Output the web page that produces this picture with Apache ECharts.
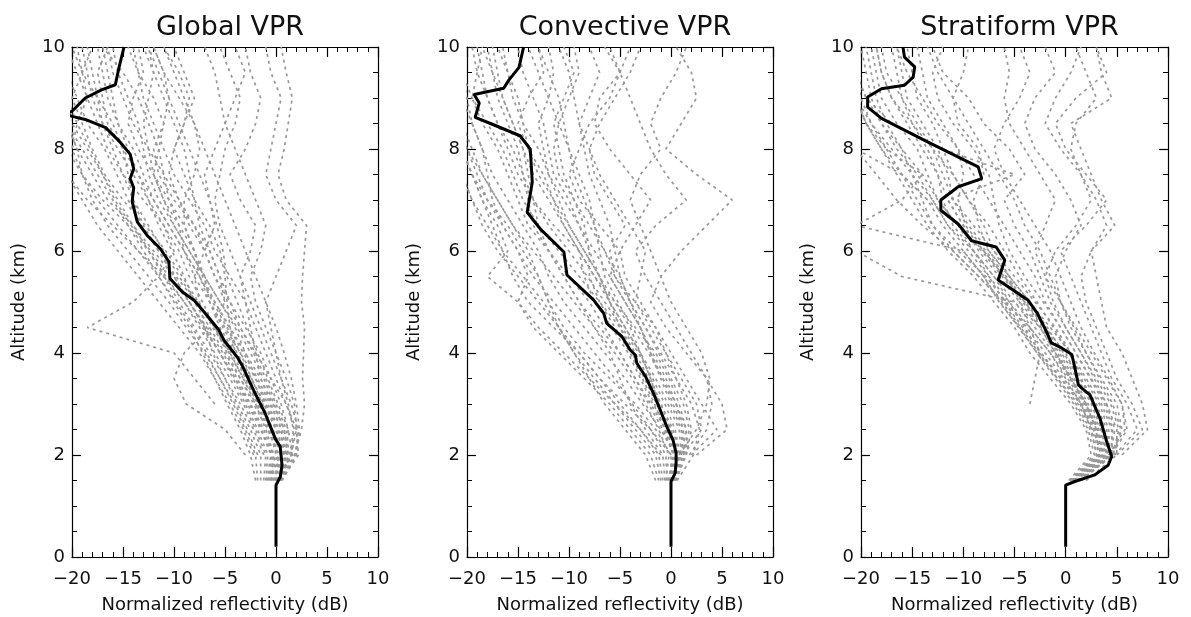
<!DOCTYPE html>
<html>
<head>
<meta charset="utf-8">
<script src="https://cdn.jsdelivr.net/npm/echarts@6/dist/echarts.min.js"></script>
<style>html,body{margin:0;padding:0;background:#fff}#c{width:1191px;height:617px}</style>
</head>
<body>
<div id="c"></div>
<script>
// ---------------- DATA ----------------
const PANEL_TITLES = ['Global VPR', 'Convective VPR', 'Stratiform VPR'];
const X_NAME = 'Normalized reflectivity (dB)';
const Y_NAME = 'Altitude (km)';
const X_TICKS = [-20, -15, -10, -5, 0, 5, 10];
const Y_TICKS = [0, 2, 4, 6, 8, 10];

// altitude levels (km) shared by the gray individual profiles
const PROFILE_ALT = [1.5, 2, 2.5, 3, 3.5, 4, 4.5, 5, 5.5, 6, 6.5, 7, 7.5, 8, 8.5, 9, 9.5, 10];

// Global VPR: individual profiles (dB at PROFILE_ALT)
const globalProfiles = [
  [0.2, 0.6, -0.3, -1.5, -2.9, -4.4, -6.0, -7.8, -9.8, -11.5, -13.2, -14.5, -15.6, -16.8, -18.5, -19.5, -20.5, null],
  [-0.5, -0.3, -1.2, -2.5, -3.8, -5.2, -6.8, -8.5, -10.5, -12.3, -14.2, -15.8, -17.0, -18.2, -19.5, -20.5, null, null],
  [0.5, 1.2, 0.8, -0.3, -1.5, -3.0, -4.5, -6.0, -7.5, -9.0, -10.5, -12.0, -13.0, -14.0, -15.5, -16.5, -17.0, -17.5],
  [-1.2, -1.0, -2.0, -3.2, -4.5, -6.0, -7.5, -9.0, -10.8, -12.5, -14.0, -15.5, -17.0, -18.5, -20.0, -21.0, null, null],
  [0.0, 1.5, 1.8, 1.0, 0.0, -1.0, -2.0, -3.0, -4.5, -6.0, -7.0, -8.5, -10.0, -11.0, -12.0, -13.0, -13.5, -14.0],
  [-2.0, -2.5, -3.5, -4.8, -6.0, -7.2, -8.5, -10.0, -11.5, -13.0, -14.5, -16.0, -17.5, -19.0, -20.5, null, null, null],
  [0.6, 2.0, 2.3, 2.0, 1.5, 0.8, 0.0, -1.0, -2.0, -3.0, -4.0, -5.0, -6.0, -7.0, -8.0, -9.0, -10.0, -11.0],
  [-0.8, 0.0, -0.6, -2.0, -3.5, -5.0, -6.5, -8.0, -9.0, -10.2, -11.5, -12.5, -13.5, -14.5, -15.5, -16.0, -16.5, -17.0],
  [null, -3.0, -5.0, -8.8, -10.0, -9.0, -6.5, -5.0, -5.5, -6.5, -8.0, -9.5, -11.0, -12.5, -14.0, -15.0, -16.0, -16.5],
  [null, null, null, -6.0, -8.0, -10.0, -18.5, -14.0, -11.5, -10.0, -11.0, -12.5, -14.0, -15.5, -17.0, -18.0, -18.5, -19.0],
  [0.4, 1.8, 2.5, 2.8, 2.6, 2.7, 2.8, 2.5, 2.6, 2.8, 3.0, 1.0, 0.2, 0.8, 1.2, 1.6, 1.0, 0.5],
  [0.3, 1.4, 1.7, 1.2, 0.5, 0.0, -0.5, -1.0, 0.0, 1.0, 2.0, 0.0, -1.0, -0.5, 0.0, 0.5, -0.5, -1.0],
  [-0.3, 0.8, 0.5, -0.5, -1.5, -2.0, -2.5, -3.0, -3.5, -2.5, -2.0, -3.5, -4.5, -3.0, -2.0, -1.5, -2.5, -3.0],
  [-1.5, -1.5, -2.5, -3.8, -5.0, -6.2, -7.0, -7.5, -8.0, -7.0, -6.0, -6.5, -7.0, -6.0, -5.0, -5.5, -6.0, -7.0],
  [-0.2, 0.3, -0.8, -1.8, -3.0, -4.0, -4.5, -4.8, -5.0, -5.5, -6.5, -8.0, -9.0, -10.0, -9.0, -8.0, -9.0, -10.0],
  [0.1, 1.0, 1.2, 0.5, -0.5, -1.5, -3.0, -4.5, -6.0, -7.0, -8.0, -10.0, -11.5, -12.0, -11.0, -10.5, -11.0, -12.0],
  [-1.0, -0.8, -1.8, -3.0, -4.2, -5.5, -7.0, -8.5, -10.0, -12.0, -14.0, -16.5, -18.0, -19.5, -20.5, null, null, null],
  [null, -1.8, -2.8, -4.0, -5.5, -7.0, -8.8, -10.5, -12.5, -14.5, -16.5, -18.0, -19.0, -19.5, -20.5, null, null, null],
  [0.0, 0.2, -0.8, -2.2, -3.5, -4.8, -6.0, -7.2, -8.5, -9.5, -11.0, -13.0, -15.0, -16.5, -17.5, -18.5, -19.0, -19.5],
  [-0.6, 0.4, 0.0, -1.0, -2.0, -3.5, -5.0, -6.5, -8.0, -9.0, -9.5, -10.5, -12.0, -13.5, -14.5, -14.0, -13.0, -13.5],
  [0.3, 1.0, 0.3, -0.8, -2.0, -3.0, -4.0, -5.5, -7.0, -8.5, -10.0, -11.5, -12.5, -13.0, -13.5, -14.5, -15.5, -16.0],
  [-0.4, -0.2, -1.0, -2.0, -3.2, -4.5, -6.0, -7.8, -9.5, -11.0, -12.5, -14.0, -15.0, -16.0, -17.0, -17.5, -18.0, -18.5],
  [0.5, 2.2, 2.0, 1.0, -0.5, -2.0, -3.5, -5.0, -6.0, -7.0, -8.5, -9.5, -10.5, -10.0, -9.0, -8.5, -9.5, -11.0],
  [-0.1, 0.5, -0.5, -1.7, -3.2, -4.6, -6.2, -7.6, -9.2, -10.8, -12.8, -15.0, -16.8, -18.0, -19.0, -20.0, -19.0, -18.0],
  [0.2, 1.6, 1.2, 0.2, -0.8, -1.8, -2.8, -3.8, -4.8, -5.2, -5.8, -6.5, -7.5, -8.5, -9.5, -10.5, -11.5, -12.5],
  [-0.9, -0.5, -1.5, -2.8, -4.0, -5.5, -7.2, -9.0, -11.0, -13.5, -16.0, -18.5, -20.5, null, null, null, null, null],
  [null, -2.2, -3.2, -4.5, -6.0, -7.5, -9.5, -11.5, -13.5, -15.5, -17.5, -19.0, -20.5, null, null, null, null, null],
  [0.4, 1.5, 2.0, 1.8, 1.0, 0.0, -1.0, -2.0, -2.5, -1.5, -1.0, -2.0, -3.0, -4.0, -5.0, -4.0, -3.0, -4.0],
  [0.1, 0.9, 0.0, -1.2, -2.4, -3.8, -5.2, -6.5, -7.5, -8.0, -9.0, -10.5, -11.0, -11.5, -12.5, -13.5, -15.0, -17.0],
  [-0.7, -0.4, -1.4, -2.6, -4.0, -5.5, -7.0, -8.5, -10.0, -11.5, -13.0, -14.0, -14.5, -15.0, -16.0, -17.5, -19.0, -20.0],
  [0.5, 1.9, 2.2, 1.5, 0.5, -0.5, -1.5, -2.5, -3.5, -4.5, -5.5, -6.0, -5.5, -5.0, -4.0, -3.5, -4.5, -5.5],
  [-0.3, 0.6, 0.2, -1.0, -2.5, -4.0, -5.5, -6.5, -7.0, -8.0, -9.5, -11.0, -12.0, -12.5, -13.0, -12.5, -12.0, -12.5],
  [null, -1.2, -2.2, -3.5, -5.0, -6.5, -8.0, -9.5, -11.0, -12.5, -14.5, -17.0, -19.0, -20.0, -19.5, -18.5, -19.5, -20.5],
  [0.0, 1.1, 0.8, -0.2, -1.2, -2.5, -3.8, -5.5, -7.0, -8.5, -10.0, -11.0, -12.0, -11.5, -11.0, -12.0, -13.5, -14.5],
  [-0.5, 0.1, -0.4, -1.3, -2.4, -3.5, -4.8, -6.2, -7.5, -9.0, -10.5, -12.0, -13.5, -15.0, -16.5, -17.0, -17.5, -16.5],
  [0.3, 1.3, 1.0, 0.0, -1.0, -2.2, -3.5, -4.5, -5.5, -6.5, -7.5, -8.0, -8.5, -9.0, -10.0, -11.0, -12.0, -13.0],
  [-1.8, -2.0, -3.0, -4.2, -5.5, -6.8, -8.2, -9.8, -11.5, -13.5, -15.5, -17.5, -19.0, -20.5, null, null, null, null],
  [0.2, 1.0, 0.6, -0.6, -1.8, -3.2, -4.6, -6.0, -7.2, -8.0, -9.0, -9.0, -8.0, -7.5, -8.0, -9.5, -11.0, -12.0]
];

// Convective VPR: individual profiles
const convectiveProfiles = [
  [0.2, 0.8, 0.2, -1.0, -2.2, -3.5, -5.0, -7.0, -9.0, -11.0, -13.0, -14.5, -15.5, -16.5, -18.0, -19.5, -20.5, null],
  [-0.5, -0.2, -1.2, -2.5, -3.8, -5.5, -7.5, -9.5, -11.5, -13.5, -15.5, -17.0, -18.5, -19.5, -20.5, null, null, null],
  [0.5, 1.5, 1.5, 0.5, -0.5, -1.8, -3.0, -4.5, -6.0, -7.5, -9.0, -10.5, -12.0, -13.0, -14.5, -15.5, -16.0, -16.5],
  [-1.5, -2.5, -4.5, -6.5, -8.0, -9.5, -11.0, -12.0, -13.0, -14.0, -15.5, -17.0, -18.5, -20.0, -21.0, null, null, null],
  [null, 1.8, 3.5, 4.0, 3.5, 2.0, 0.5, -1.0, -2.5, -3.5, -1.5, 1.5, -0.5, -2.0, -3.0, -4.0, -5.0, -6.0],
  [null, 2.5, 5.5, 5.0, 3.5, 1.5, -0.5, -2.0, -1.0, 1.0, 3.5, 6.0, 2.5, -0.5, 1.0, 2.5, 2.0, 0.5],
  [0.0, 0.0, -2.0, -4.5, -7.0, -9.0, -11.5, -14.0, -15.5, -16.5, -17.5, -18.5, -19.5, -20.5, null, null, null, null],
  [-1.0, -1.5, -3.5, -5.5, -7.5, -9.5, -11.0, -12.5, -14.5, -16.5, -18.0, -19.5, -20.5, null, null, null, null, null],
  [0.3, 1.0, 0.8, -0.3, -1.5, -3.0, -4.5, -6.0, -7.0, -8.5, -10.0, -11.0, -12.0, -12.5, -13.0, -12.0, -11.5, -12.0],
  [-0.3, 0.3, -0.8, -2.2, -3.5, -5.0, -6.5, -8.0, -10.0, -12.0, -14.0, -15.0, -16.0, -17.0, -18.5, -19.5, -19.0, -18.5],
  [0.6, 2.2, 2.8, 2.0, 0.5, -1.0, -2.5, -4.0, -5.0, -5.5, -6.0, -7.0, -8.0, -8.5, -9.0, -9.5, -10.0, -11.0],
  [null, 0.0, -1.5, -3.5, -6.0, -8.5, -10.5, -12.0, -13.0, -14.5, -16.0, -18.0, -19.5, -20.5, null, null, null, null],
  [0.1, 0.6, -0.2, -1.8, -3.0, -4.2, -5.8, -7.5, -8.5, -9.0, -10.5, -12.0, -13.5, -14.5, -15.5, -16.5, -17.0, -17.5],
  [-0.6, -0.8, -2.5, -4.0, -5.0, -6.0, -7.5, -9.0, -10.5, -12.0, -13.5, -14.0, -14.5, -15.5, -17.0, -18.0, -18.5, -19.0],
  [0.4, 1.2, 1.0, 0.0, -1.0, -2.0, -3.0, -4.5, -6.0, -5.0, -3.5, -2.0, -4.0, -6.0, -7.5, -7.0, -5.0, -4.0],
  [null, 1.5, 2.0, 1.5, 0.5, -0.5, -1.5, -3.0, -4.5, -5.0, -7.0, -9.0, -10.0, -9.0, -8.0, -6.0, -5.0, -6.5],
  [null, -1.0, -3.0, -5.5, -8.0, -10.5, -13.0, -15.0, -18.0, -16.0, -17.0, -18.5, -19.5, -20.5, null, null, null, null],
  [0.0, 0.4, -1.0, -2.8, -4.5, -6.5, -8.5, -10.5, -12.0, -13.0, -14.5, -16.0, -17.5, -18.5, -19.5, -20.0, -20.5, null],
  [null, 1.0, 1.5, 0.8, -0.2, -1.5, -3.5, -5.5, -7.5, -9.0, -10.5, -11.5, -12.5, -14.0, -15.0, -14.0, -12.5, -13.0],
  [-0.2, 0.2, -0.6, -1.6, -2.8, -4.0, -5.5, -7.0, -8.0, -8.0, -8.5, -9.5, -10.5, -11.0, -11.5, -10.5, -9.5, -10.5],
  [0.2, 0.9, 0.4, -0.6, -1.8, -3.2, -4.8, -6.5, -8.2, -10.0, -12.0, -13.5, -14.5, -15.0, -16.0, -17.0, -17.5, -18.0],
  [null, 2.0, 4.5, 3.0, 1.5, 0.0, -1.5, -3.5, -5.5, -6.0, -4.5, -6.0, -7.5, -8.0, -7.0, -5.5, -4.0, -3.0],
  [0.3, 1.2, 1.8, 1.2, 0.0, -1.2, -2.5, -4.0, -5.5, -6.5, -7.5, -8.5, -9.5, -10.0, -10.5, -11.0, -12.0, -13.0],
  [-0.8, -1.2, -3.0, -5.0, -7.0, -9.0, -11.0, -13.0, -15.0, -17.0, -18.5, -19.5, -20.5, null, null, null, null, null],
  [null, 0.8, 2.5, 3.5, 3.8, 3.0, 1.5, 0.0, -1.0, -2.0, -3.0, -4.0, -3.0, -1.0, -2.0, -1.0, 0.5, 1.5],
  [-0.4, -0.5, -2.0, -3.8, -5.5, -7.5, -9.5, -11.5, -13.5, -15.0, -16.5, -17.5, -18.0, -18.5, -19.5, -20.5, null, null],
  [0.1, 0.7, 0.0, -1.4, -2.6, -3.8, -5.0, -6.0, -7.0, -8.5, -10.0, -11.5, -13.0, -14.0, -14.5, -15.0, -16.0, -17.0],
  [null, 1.2, 3.0, 2.5, 1.0, -0.5, -2.0, -3.5, -3.0, -2.5, -4.0, -5.5, -7.0, -8.0, -9.0, -8.0, -7.0, -8.0],
  [0.2, 0.5, -0.5, -2.0, -3.5, -5.0, -7.0, -9.0, -10.5, -12.0, -13.0, -13.5, -14.0, -14.5, -15.5, -16.5, -17.5, -18.5],
  [-1.2, -2.0, -4.0, -6.0, -8.5, -11.0, -13.5, -15.0, -14.0, -15.0, -16.5, -18.0, -19.0, -20.0, -20.5, null, null, null],
  [0.4, 1.4, 1.2, 0.2, -0.8, -2.0, -3.0, -4.0, -5.0, -6.5, -8.0, -9.5, -11.0, -11.5, -11.0, -10.0, -9.0, -9.5],
  [null, 0.5, 0.0, -1.0, -2.0, -3.0, -4.0, -5.5, -7.0, -8.0, -9.0, -10.0, -11.5, -12.0, -12.5, -13.5, -14.5, -15.0],
  [-0.1, 0.3, -0.4, -1.2, -2.0, -3.0, -4.5, -6.0, -7.5, -9.0, -11.5, -13.5, -15.0, -16.0, -17.0, -18.0, -19.0, -19.5],
  [0.0, 0.9, 1.2, 0.5, -0.8, -2.2, -3.8, -5.2, -6.5, -7.0, -7.5, -8.0, -9.0, -10.0, -11.0, -12.0, -13.0, -14.0]
];

// Stratiform VPR: individual profiles
const stratiformProfiles = [
  [1.0, 4.0, 3.5, 2.5, 1.2, 0.0, -2.0, -4.0, -6.0, -8.0, -10.5, -12.5, -14.0, -16.0, -18.0, -19.5, -20.5, null],
  [0.5, 3.0, 2.5, 1.5, 0.0, -1.5, -3.5, -5.5, -7.5, -9.5, -11.5, -13.0, -15.0, -17.0, -19.0, -20.5, null, null],
  [2.0, 5.0, 5.0, 4.0, 2.5, 1.0, -0.5, -2.0, -3.0, -4.5, -6.0, -7.5, -9.0, -10.5, -12.0, -13.5, -14.0, -14.5],
  [1.5, 4.5, 6.0, 5.5, 4.0, 2.5, 1.0, -0.5, -2.0, -3.0, -2.0, -1.0, -2.5, -4.0, -5.5, -6.0, -5.5, -6.0],
  [null, 5.5, 8.0, 7.5, 6.5, 5.5, 4.0, 3.5, 3.0, 2.5, 4.8, 3.5, 2.5, 1.5, 0.5, 4.5, 3.5, 3.0],
  [0.8, 3.5, 2.8, 1.5, -0.5, -2.5, -4.0, -5.5, -7.0, -9.0, -11.5, -13.0, -14.5, -16.5, -18.0, -19.0, -19.5, -20.0],
  [1.2, 4.2, 4.0, 3.0, 1.5, 0.5, -1.0, -3.0, -5.0, -7.0, -9.0, -11.0, -11.5, -12.5, -14.0, -15.5, -16.0, -16.5],
  [null, 4.8, 7.0, 6.0, 4.5, 3.5, 2.5, 1.5, 0.5, -0.5, 2.0, 4.0, 2.0, 0.0, -1.0, 1.0, 4.0, 3.0],
  [0.3, 2.5, 2.0, 0.5, -1.5, -3.5, -5.0, -7.0, -9.0, -11.5, -13.5, -15.0, -16.5, -18.0, -19.5, -20.5, null, null],
  [1.0, 3.8, 3.2, 2.0, 0.5, -1.0, -2.5, -4.5, -6.5, -8.5, -10.0, -11.5, -5.0, -12.0, -17.0, -19.5, -20.5, null],
  [1.5, 4.5, 4.5, 3.5, 2.0, 0.5, -1.5, -3.5, -5.5, -7.5, -8.5, -9.0, -8.0, -8.5, -10.5, -11.0, -10.0, -9.5],
  [null, null, null, -3.5, -3.0, -2.5, -3.5, -4.5, -5.5, -7.0, -8.0, -9.5, -11.0, -13.0, -15.0, -17.0, -18.0, -18.5],
  [0.6, 3.2, 3.0, 2.0, 0.5, -1.0, -2.5, -5.0, -16.0, -20.5, null, null, null, null, null, null, null, null],
  [null, 4.5, 5.5, 5.0, 3.5, 2.0, 0.5, -0.5, -1.0, 0.0, 1.5, 0.5, -1.0, -3.0, -4.0, -3.0, -1.0, -2.0],
  [0.9, 3.6, 3.0, 1.8, 0.2, -1.5, -3.5, -6.0, -8.5, -11.0, -13.0, -14.0, -15.0, -16.0, -17.5, -18.5, -19.0, -19.5],
  [1.3, 4.3, 4.2, 3.3, 1.8, 0.3, -1.2, -2.8, -4.5, -6.0, -7.5, -9.5, -11.0, -12.0, -13.0, -14.5, -15.0, -15.5],
  [1.1, 3.9, 3.4, 2.2, 0.8, -0.6, -2.4, -4.2, -6.2, -8.2, -10.5, -12.5, -13.5, -14.5, -16.5, -18.0, -18.5, -19.0],
  [0.7, 3.3, 2.6, 1.2, -0.8, -2.8, -4.6, -6.4, -8.0, -10.0, -20.5, -16.0, -14.0, -17.5, -19.5, -20.5, null, null],
  [1.4, 4.6, 5.2, 4.4, 3.0, 1.5, 0.0, -1.5, -2.5, -3.5, -5.0, -6.0, -4.0, -5.5, -8.0, -9.5, -12.0, -13.0],
  [0.4, 2.8, 2.2, 0.8, -1.0, -2.8, -4.5, -6.5, -8.0, -10.0, -12.0, -13.5, -16.0, -20.5, null, null, null, null],
  [1.2, 4.4, 4.8, 4.0, 2.8, 1.5, 0.0, -1.2, -2.0, -1.0, 1.0, 2.5, 1.5, 0.5, 1.0, 3.0, 2.0, 1.0],
  [0.8, 3.6, 3.2, 2.0, 0.6, -0.8, -2.2, -4.0, -6.0, -8.0, -10.0, -11.5, -12.5, -14.0, -15.5, -17.0, -18.0, -18.5],
  [1.0, 4.1, 3.8, 2.8, 1.4, -0.2, -1.8, -3.5, -5.5, -7.5, -9.5, -11.0, -12.0, -13.0, -14.5, -16.0, -17.5, -18.0],
  [null, 5.0, 7.5, 6.5, 5.0, 4.0, 3.0, 2.0, 1.5, 2.5, 4.0, 3.0, 1.5, -0.5, -2.0, -1.0, 0.5, 1.5],
  [0.6, 3.4, 2.9, 1.6, -0.2, -2.0, -3.8, -5.8, -7.8, -10.5, -13.0, -14.5, -16.0, -17.5, -19.0, -20.0, -20.5, null],
  [1.3, 4.4, 4.6, 3.8, 2.4, 1.0, -0.5, -2.2, -4.0, -5.5, -6.5, -7.0, -7.5, -9.0, -11.0, -12.5, -13.0, -12.0],
  [0.9, 3.7, 3.1, 1.9, 0.4, -1.2, -3.0, -5.0, -7.0, -9.0, -11.0, -12.0, -12.5, -13.5, -15.0, -16.0, -16.5, -17.0],
  [null, 4.2, 5.8, 5.5, 4.2, 2.8, 1.5, 0.5, -0.5, -1.5, -3.0, -4.5, -6.0, -7.0, -6.0, -4.5, -3.5, -4.5],
  [0.5, 3.1, 2.4, 1.0, -0.8, -2.6, -4.4, -6.2, -8.5, -11.0, -14.0, -16.5, -18.5, -20.5, null, null, null, null],
  [1.1, 4.0, 3.6, 2.6, 1.1, -0.4, -2.0, -3.8, -5.8, -7.8, -9.8, -10.5, -10.0, -10.5, -12.5, -14.0, -15.5, -16.5],
  [1.4, 4.7, 5.4, 4.6, 3.3, 2.0, 0.8, -0.5, -1.5, -2.5, -4.0, -5.0, -6.5, -8.0, -9.5, -11.0, -12.5, -13.5],
  [0.7, 3.5, 2.7, 1.4, -0.4, -2.4, -4.2, -6.0, -7.5, -9.0, -10.5, -13.5, -16.0, -18.0, -19.5, -20.5, null, null]
];

// Thick black mean profiles (altitude km, reflectivity dB)
const globalMeanAlt = [0.2, 1.41, 1.57, 1.8, 2.16, 2.32, 2.81, 3.27, 3.76, 3.92, 4.25, 4.45, 4.77, 5.03, 5.2, 5.46, 5.79, 6.05, 6.31, 6.57, 6.97, 7.24, 7.42, 7.61, 7.9, 8.16, 8.42, 8.58, 8.64, 8.69, 8.74, 9.0, 9.16, 9.26, 9.59, 10.0];
const globalMeanDb  = [0.0, 0.0, 0.42, 0.59, 0.42, -0.07, -1.05, -2.2, -3.33, -3.8, -5.1, -5.6, -6.9, -8.0, -9.2, -10.4, -10.5, -11.35, -12.65, -13.6, -14.1, -13.95, -14.3, -13.95, -14.3, -15.4, -16.7, -18.7, -20.0, -20.6, -20.0, -18.7, -17.1, -15.75, -15.4, -14.9];

const convMeanAlt = [0.2, 1.48, 1.64, 1.84, 2.04, 2.29, 2.55, 2.88, 3.2, 3.54, 3.8, 3.96, 4.06, 4.32, 4.58, 4.78, 5.04, 5.53, 5.98, 6.43, 6.76, 7.35, 8.0, 8.26, 8.5, 8.62, 8.9, 9.07, 9.19, 9.35, 9.6, 10.0];
const convMeanDb  = [0.0, 0.0, 0.4, 0.5, 0.5, 0.2, -0.4, -1.05, -1.7, -2.5, -3.35, -3.5, -4.0, -4.8, -6.3, -6.6, -7.6, -10.2, -10.5, -12.8, -14.1, -13.6, -13.8, -14.8, -17.7, -19.2, -18.8, -19.3, -16.4, -15.9, -14.9, -14.45];

const stratMeanAlt = [0.2, 1.41, 1.48, 1.61, 1.8, 1.97, 2.27, 2.72, 3.18, 3.31, 3.38, 3.71, 3.97, 4.1, 4.2, 4.43, 4.77, 5.04, 5.43, 5.82, 6.08, 6.2, 6.53, 6.8, 7.0, 7.26, 7.42, 7.65, 8.14, 8.6, 8.82, 9.02, 9.18, 9.25, 9.41, 9.61, 9.8, 10.0];
const stratMeanDb  = [0.0, 0.0, 0.9, 2.85, 4.15, 4.5, 4.0, 3.35, 2.37, 1.57, 1.24, 0.9, 0.6, -0.4, -1.4, -1.9, -2.75, -3.7, -6.6, -5.95, -6.8, -9.2, -10.5, -12.2, -12.2, -10.5, -8.2, -8.55, -13.5, -18.0, -19.35, -19.35, -18.0, -15.75, -14.9, -14.75, -15.75, -15.9];

// ---------------- CHART ----------------
const FONT = 'DejaVu Sans';
const GRIDS = [
  { left: 72, top: 47, width: 306, height: 510, outerBoundsMode: 'none', containLabel: false },
  { left: 467, top: 47, width: 306, height: 510, outerBoundsMode: 'none', containLabel: false },
  { left: 861, top: 47, width: 307, height: 510, outerBoundsMode: 'none', containLabel: false }
];
const panelProfiles = [globalProfiles, convectiveProfiles, stratiformProfiles];
const panelMeans = [[globalMeanAlt, globalMeanDb], [convMeanAlt, convMeanDb], [stratMeanAlt, stratMeanDb]];

const minus = v => String(v).replace('-', '\u2212');
const axisLine = { show: true, onZero: false, lineStyle: { color: '#000', width: 1.2 } };

const xAxes = [], yAxes = [], series = [], titles = [];
GRIDS.forEach((g, i) => {
  titles.push({
    text: PANEL_TITLES[i], left: g.left + g.width / 2, top: 9, textAlign: 'center',
    textStyle: { fontFamily: FONT, fontSize: 27, fontWeight: 'normal', color: '#111' }
  });
  const xBase = {
    gridIndex: i, type: 'value', min: X_TICKS[0], max: X_TICKS[X_TICKS.length - 1], interval: 5,
    axisLine, splitLine: { show: false },
    axisTick: { show: true, inside: true, length: 10, lineStyle: { color: '#000', width: 1.2 } },
    minorTick: { show: true, splitNumber: 5, length: 5, lineStyle: { color: '#000', width: 1 } }
  };
  xAxes.push(Object.assign({}, xBase, {
    position: 'bottom',
    axisLabel: { show: true, fontFamily: FONT, fontSize: 18, color: '#111', margin: 13, formatter: minus },
    name: X_NAME, nameLocation: 'middle', nameGap: 39,
    nameTextStyle: { fontFamily: FONT, fontSize: 18, color: '#111' }
  }));
  xAxes.push(Object.assign({}, xBase, { position: 'top', axisLabel: { show: false } }));
  const yBase = {
    gridIndex: i, type: 'value', min: Y_TICKS[0], max: Y_TICKS[Y_TICKS.length - 1], interval: 2,
    axisLine, splitLine: { show: false },
    axisTick: { show: true, inside: true, length: 9, lineStyle: { color: '#000', width: 1.2 } },
    minorTick: { show: true, splitNumber: 4, length: 5, lineStyle: { color: '#000', width: 1 } }
  };
  yAxes.push(Object.assign({}, yBase, {
    position: 'left',
    axisLabel: { show: true, fontFamily: FONT, fontSize: 18, color: '#111', margin: 7 },
    name: Y_NAME, nameLocation: 'middle', nameGap: 44,
    nameTextStyle: { fontFamily: FONT, fontSize: 18, color: '#111' }
  }));
  yAxes.push(Object.assign({}, yBase, { position: 'right', axisLabel: { show: false } }));

  panelProfiles[i].forEach(p => {
    const data = [];
    p.forEach((v, k) => { if (v !== null) data.push([v, PROFILE_ALT[k]]); });
    series.push({
      type: 'line', xAxisIndex: 2 * i, yAxisIndex: 2 * i, data, showSymbol: false, symbol: 'none',
      silent: true, animation: false, clip: true,
      lineStyle: { color: '#999999', width: 1.7, type: [3, 4] }, z: 2
    });
  });
  const [alt, db] = panelMeans[i];
  series.push({
    type: 'line', xAxisIndex: 2 * i, yAxisIndex: 2 * i,
    data: alt.map((a, k) => [db[k], a]), showSymbol: false, symbol: 'none',
    silent: true, animation: false, clip: true,
    lineStyle: { color: '#000', width: 3 }, z: 5
  });
});

const chart = echarts.init(document.getElementById('c'), null, { renderer: 'canvas' });
chart.setOption({
  animation: false,
  backgroundColor: '#fff',
  title: titles,
  grid: GRIDS,
  xAxis: xAxes,
  yAxis: yAxes,
  series
});
</script>
</body>
</html>
